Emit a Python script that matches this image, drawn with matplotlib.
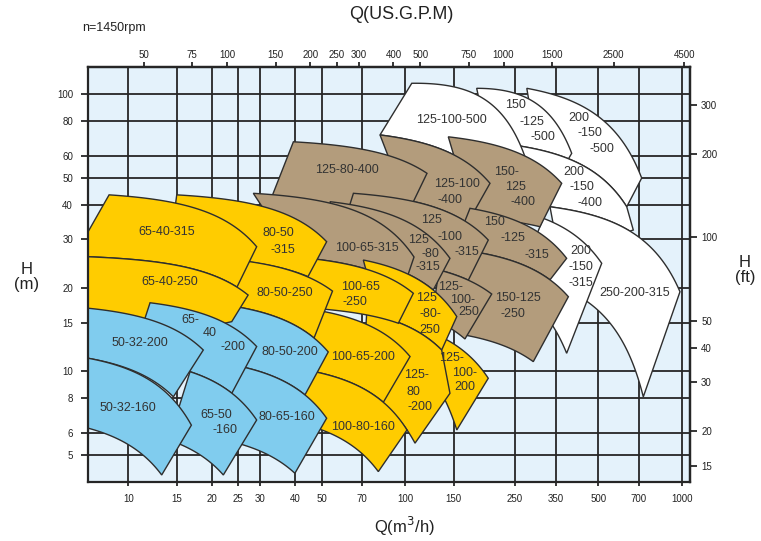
import numpy as np
import matplotlib
matplotlib.use("Agg")
import matplotlib.pyplot as plt
from matplotlib.patches import Polygon
from matplotlib.ticker import NullLocator

plt.rcParams['font.family'] = ['Liberation Sans', 'DejaVu Sans']

# ---------------- data ----------------
q_ticks = [10, 15, 20, 25, 30, 40, 50, 70, 100, 150, 250, 350, 500, 700, 1000]
h_ticks = [5, 6, 8, 10, 15, 20, 30, 40, 50, 60, 80, 100]
gpm_ticks = [50, 75, 100, 150, 200, 250, 300, 400, 500, 750, 1000, 1500, 2500, 4500]
ft_ticks = [15, 20, 30, 40, 50, 100, 200, 300]
GPM_PER_M3H = 4.403
FT_PER_M = 3.2808

# pump models (drawing order: first = bottom)
models = ["200-150-500", "150-125-500", "200-150-400", "125-100-500", "250-200-315",
          "200-150-315", "150-125-400", "125-100-400", "125-80-400", "150-125-315",
          "150-125-250", "125-100-315", "125-100-250", "125-80-315", "100-65-315",
          "125-100-200", "125-80-250", "125-80-200", "100-65-250", "100-65-200",
          "100-80-160", "80-50-315", "80-50-250", "80-50-200", "80-65-160",
          "65-40-315", "65-40-250", "65-40-200", "65-50-160", "50-32-200", "50-32-160"]
groups = ["w", "w", "w", "w", "w",
          "w", "br", "br", "br", "br",
          "br", "br", "br", "br", "br",
          "y", "y", "y", "y", "y",
          "y", "y", "y", "b", "b",
          "y", "y", "b", "b", "b", "b"]
# corner points (Q m3/h, H m) of each operating region
top_left = [(275.6, 105.2), (181.6, 105.2), (240, 65.9), (105.8, 109.7), (334.3, 39.3),
            (316.2, 35.71), (143.4, 70.3), (81.23, 71.4), (39.5, 67.45), (171.8, 38.8),
            (150, 27.67), (65.1, 43.96), (132.7, 23.24), (53.58, 41.0), (28.3, 43.96),
            (137.6, 13.21), (70.7, 25.25), (72.7, 16.22), (44.73, 25.61), (35, 17.3),
            (35, 10.45), (14.96, 43.4), (22, 25.56), (22, 17.42), (22, 10.71),
            (8.52, 43.4), (6, 26.1), (11.98, 17.7), (16.71, 9.98), (6, 17.17), (6, 11.47)]
# optional point read in the middle of the top curve (None = two-point curve)
top_mid = [None, (260.4, 99.5), None, (171.8, 102.2), None,
           None, None, None, None, None,
           None, None, None, None, None,
           None, None, None, None, None,
           None, None, None, None, None,
           None, None, None, None, None, None]
top_right = [(717.1, 49.9), (400.5, 61.3), (633.2, 39.3), (271.4, 59.6), (986.3, 19.4),
             (514.1, 24.57), (368.5, 47.77), (202.9, 47.77), (120.1, 51.9), (384, 25.61),
             (389.6, 18.61), (200, 29.81), (205.8, 19.03), (145.4, 25.61), (107.8, 25.89),
             (200, 9.45), (153.9, 15.78), (135.7, 11.95), (107.2, 19.15), (104.3, 11.32),
             (101.7, 6.15), (52.1, 29.4), (54.7, 19.5), (52.8, 11.76), (52.1, 6.78),
             (29.1, 28.2), (27.1, 18.87), (29.1, 12.3), (29.1, 6.68), (18.66, 11.95), (16.9, 6.4)]
# extra corner on the right side (None = straight right edge)
right_tip = [None, None, (668.7, 32.4), None, None,
             None, None, None, None, None,
             None, None, None, None, None,
             None, None, (145.4, 8.34), None, None,
             None, None, None, None, None,
             None, None, None, None, None, None]
bottom_right = [(633.2, 39.3), (390, 58.57), (650, 32.1), (190, 51.2), (726.8, 8.1),
                (384, 11.63), (307.6, 33.3), (168.3, 34.3), (107.2, 41.0), (334.3, 21.42),
                (290.9, 10.85), (169.4, 21.36), (164.7, 13.1), (126.5, 19.67), (99.2, 20.27),
                (153.9, 6.15), (135.7, 11.95), (108.7, 5.51), (94.6, 14.93), (83.5, 7.74),
                (80.1, 4.35), (44.6, 22.0), (46.9, 13.2), (43.5, 8.23), (40, 4.29),
                (24.7, 20.16), (23.65, 15.13), (23.65, 8.34), (22.05, 4.23), (14.55, 8.1), (13.2, 4.23)]
bottom_left = [(300, 63.38), (200, 67.25), (334.3, 39.3), (81.23, 71.4), (380, 19.8),
               (250, 19.94), (175, 36.0), (100, 41.68), (31.2, 37.0), (150, 27.67),
               (160, 13.6), (55, 25.73), (125, 15.5), (60, 25.96), (40, 25.88),
               (110, 10.92), (80, 15.86), (70, 8.51), (40, 17.07), (35, 10.45),
               (35, 6.74), (14, 26.1), (22, 17.42), (22, 10.71), (22, 5.67),
               (6.37, 26.06), (6, 13.5), (10.26, 11.0), (14, 5.66), (6, 11.45), (6, 6.49)]

# label lines (text, axes-fraction x, axes-fraction y)
label_lines = [
    ("65-40-315", 0.1303, 0.6024), ("80-50", 0.3158, 0.5986), ("-315", 0.3241, 0.5583),
    ("65-40-250", 0.1358, 0.4819), ("80-50-250", 0.3269, 0.4540),
    ("65-", 0.1690, 0.3896), ("40", 0.2023, 0.3576), ("-200", 0.2410, 0.3253),
    ("50-32-200", 0.0859, 0.3335), ("80-50-200", 0.3352, 0.3133),
    ("50-32-160", 0.0665, 0.1769), ("65-50", 0.2134, 0.1607), ("-160", 0.2272, 0.1246),
    ("80-65-160", 0.3297, 0.1566), ("125-80-400", 0.4295, 0.7511),
    ("125-100", 0.6136, 0.7173), ("-400", 0.6011, 0.6788),
    ("100-65-315", 0.4627, 0.5624),
    ("125", 0.5696, 0.6306), ("-100", 0.6011, 0.5904), ("-315", 0.6289, 0.5542),
    ("125", 0.5496, 0.5836), ("-80", 0.5679, 0.5494), ("-315", 0.5651, 0.5169),
    ("100-65", 0.4516, 0.4699), ("-250", 0.4433, 0.4337),
    ("125", 0.5624, 0.4419), ("-80-", 0.5679, 0.4046), ("250", 0.5679, 0.3655),
    ("125-", 0.6028, 0.4680), ("100-", 0.6219, 0.4378), ("250", 0.6320, 0.4096),
    ("100-65-200", 0.4571, 0.3012),
    ("125-", 0.5458, 0.2571), ("80", 0.5402, 0.2169), ("-200", 0.5513, 0.1807),
    ("125-", 0.6040, 0.2973), ("100-", 0.6261, 0.2612), ("200", 0.6261, 0.2289),
    ("100-80-160", 0.4571, 0.1325), ("125-100-500", 0.6040, 0.8716),
    ("150", 0.7092, 0.9077), ("-125", 0.7369, 0.8675), ("-500", 0.7562, 0.8313),
    ("200", 0.8144, 0.8757), ("-150", 0.8338, 0.8395), ("-500", 0.8533, 0.8017),
    ("150-", 0.6954, 0.7470), ("125", 0.7092, 0.7108), ("-400", 0.7230, 0.6747),
    ("200", 0.8061, 0.7470), ("-150", 0.8200, 0.7108), ("-400", 0.8338, 0.6708),
    ("150", 0.6759, 0.6265), ("-125", 0.7064, 0.5865), ("-315", 0.7452, 0.5463),
    ("200", 0.8189, 0.5559), ("-150", 0.8189, 0.5169), ("-315", 0.8189, 0.4781),
    ("150-125", 0.7147, 0.4419), ("-250", 0.7064, 0.4034),
    ("250-200-315", 0.9086, 0.4540),
]

# ---------------- style ----------------
fill_colors = {"y": "#FFCC00", "b": "#80CCEE", "br": "#B39C7C", "w": "#FFFFFF"}
edge_color = "#2e2e2e"
grid_color = "#262626"
text_color = "#333333"
tick_color = "#222222"


def pump_curve(p1, p2, mid=None, n=60):
    (q1, h1), (q2, h2) = p1, p2
    qs = np.geomspace(q1, q2, n)
    if mid is not None:
        coef = np.polyfit([q1, mid[0], q2], [h1, mid[1], h2], 2)
        return np.column_stack([qs, np.polyval(coef, qs)])
    b = (h1 - h2) / (q2 ** 2 - q1 ** 2)
    a = h1 + b * q1 ** 2
    return np.column_stack([qs, a - b * qs ** 2])


fig = plt.figure(figsize=(7.61, 5.41), dpi=100)
ax = fig.add_axes([0.1160, 0.1096, 0.7907, 0.7671])
ax.set_xscale("log")
ax.set_yscale("log")
ax.set_xlim(7.165, 1072)
ax.set_ylim(4.0, 125.9)
ax.set_facecolor("#E4F2FB")

ax.set_axisbelow(True)
ax.set_xticks(q_ticks, labels=[str(t) for t in q_ticks])
ax.set_yticks(h_ticks, labels=[str(t) for t in h_ticks])
ax.xaxis.set_minor_locator(NullLocator())
ax.yaxis.set_minor_locator(NullLocator())
ax.grid(True, which="major", color=grid_color, linewidth=1.3)
ax.tick_params(axis="x", direction="out", length=3, width=1.3, pad=6,
               labelsize=7, labelcolor=tick_color, color=grid_color)
ax.tick_params(axis="y", direction="out", length=5, width=1.3, pad=6,
               labelsize=7, labelcolor=tick_color, color=grid_color)
for s in ax.spines.values():
    s.set_linewidth(1.6)
    s.set_color(grid_color)

for name, g, tl, tm, tr, tip, br, bl in zip(models, groups, top_left, top_mid, top_right,
                                             right_tip, bottom_right, bottom_left):
    parts = [pump_curve(tl, tr, tm)]
    if tip is not None:
        parts.append(np.array([tip]))
    parts.append(pump_curve(br, bl))
    verts = np.vstack(parts)
    ax.add_patch(Polygon(verts, closed=True, facecolor=fill_colors[g],
                         edgecolor=edge_color, linewidth=1.0, joinstyle="miter"))

for txt, fx, fy in label_lines:
    ax.text(fx, fy, txt, transform=ax.transAxes, ha="center", va="center",
            fontsize=9, color=text_color)

# secondary axes
secx = ax.secondary_xaxis("top", functions=(lambda q: q * GPM_PER_M3H,
                                             lambda g: g / GPM_PER_M3H))
secx.set_xticks(gpm_ticks, labels=[str(t) for t in gpm_ticks])
secx.xaxis.set_minor_locator(NullLocator())
secx.tick_params(axis="x", direction="out", length=3.5, width=1.3, pad=1.5,
                 labelsize=7, labelcolor=tick_color, color=grid_color)
secx.spines["top"].set_linewidth(1.6)

secy = ax.secondary_yaxis("right", functions=(lambda h: h * FT_PER_M,
                                               lambda f: f / FT_PER_M))
secy.set_yticks(ft_ticks, labels=[str(t) for t in ft_ticks])
secy.yaxis.set_minor_locator(NullLocator())
secy.tick_params(axis="y", direction="out", length=5, width=1.3, pad=3,
                 labelsize=7, labelcolor=tick_color, color=grid_color)
secy.spines["right"].set_linewidth(1.6)

fig.text(0.5279, 0.974, "Q(US.G.P.M)", ha="center", va="center", fontsize=13,
         color=tick_color)
fig.text(0.1074, 0.948, "n=1450rpm", ha="left", va="center", fontsize=9,
         color=tick_color)
fig.text(0.532, 0.026, "Q(m$^3$/h)", ha="center", va="center", fontsize=12,
         color=tick_color)
fig.text(0.0355, 0.488, "H\n(m)", ha="center", va="center", fontsize=12,
         color=tick_color, linespacing=1.0)
fig.text(0.9790, 0.501, "H\n(ft)", ha="center", va="center", fontsize=12,
         color=tick_color, linespacing=1.0)

fig.savefig("out.png", dpi=100, facecolor="white")
